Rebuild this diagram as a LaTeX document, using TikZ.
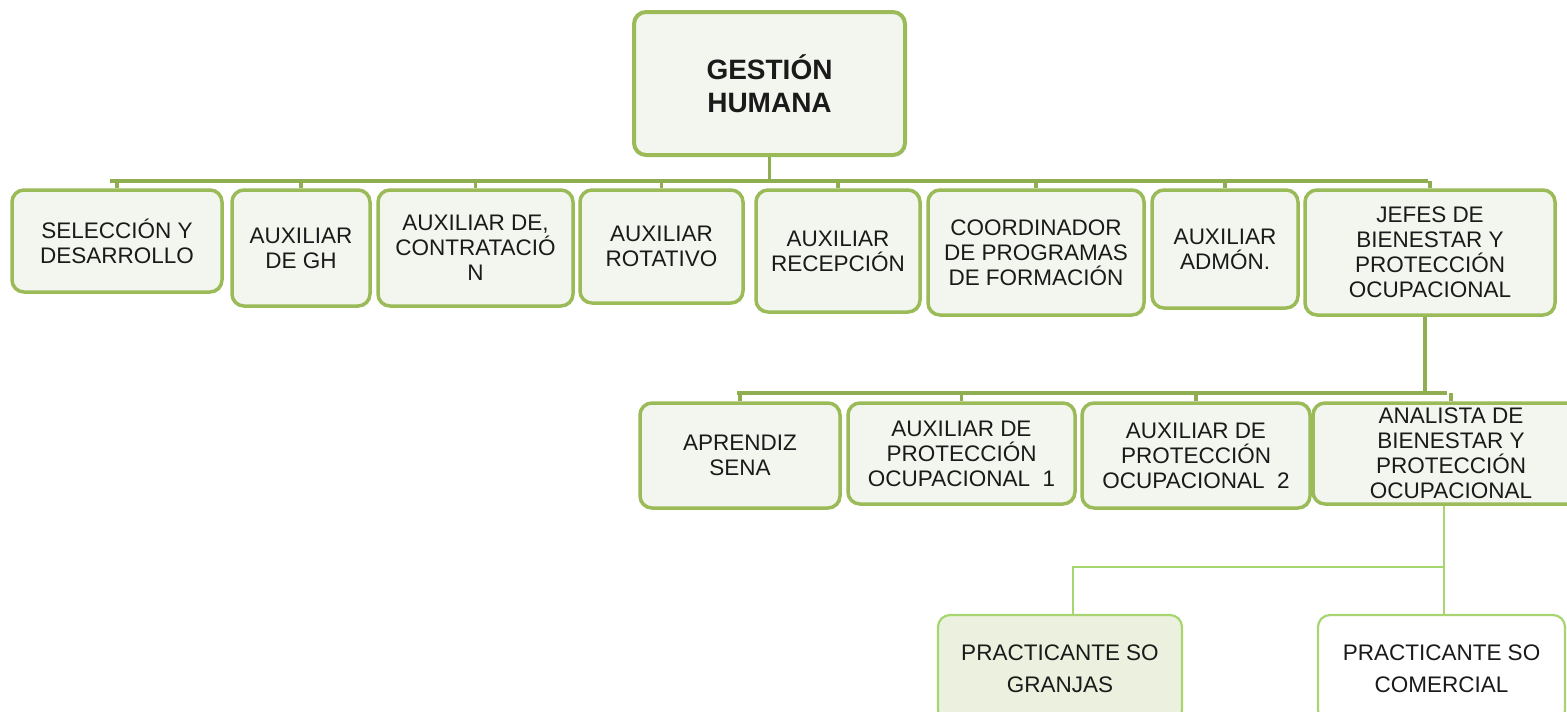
\documentclass[tikz,border=0pt]{standalone}
\usepackage{fontspec}
\setmainfont{Liberation Sans}
\definecolor{boxline}{HTML}{9BBB59}
\definecolor{conn}{HTML}{8FAE52}
\definecolor{boxfill}{HTML}{F3F6EE}
\definecolor{granfill}{HTML}{EBF1DE}
\definecolor{lightline}{HTML}{A7D670}
\definecolor{txt}{HTML}{1A1A1A}
\tikzset{
  orgbox/.style={draw=boxline, line width=3.5pt, rounded corners=12pt, fill=boxfill,
    inner sep=0pt, align=center, text=txt, font=\fontsize{22.5}{25}\selectfont},
  topbox/.style={orgbox, line width=4pt, font=\fontsize{28}{33}\selectfont\bfseries},
  lowbox/.style={orgbox, draw=lightline, line width=2.2pt, font=\fontsize{22.5}{32}\selectfont},
  mainconn/.style={draw=conn, line width=3.5pt},
  lightconn/.style={draw=lightline, line width=2pt}
}
\begin{document}
\begin{tikzpicture}[x=1pt,y=-1pt]
\useasboundingbox (0,0) rectangle (1567,712);
\clip (0,0) rectangle (1567,712);

% top
\node[topbox, minimum width=271pt, minimum height=143pt] (gh) at (769.5,83.5) {GESTIÓN\\HUMANA};

% row 1
\node[orgbox, minimum width=210pt, minimum height=102pt] (sel) at (117,241) {SELECCIÓN Y\\DESARROLLO};
\node[orgbox, minimum width=138pt, minimum height=116pt] (agh) at (301,248) {AUXILIAR\\DE GH};
\node[orgbox, minimum width=195pt, minimum height=116pt] (con) at (475.5,248) {AUXILIAR DE,\\CONTRATACIÓ\\N};
\node[orgbox, minimum width=163pt, minimum height=113pt] (rot) at (661.5,246.5) {AUXILIAR\\ROTATIVO};
\node[orgbox, minimum width=164pt, minimum height=122pt] (rec) at (838,251) {AUXILIAR\\RECEPCIÓN};
\node[orgbox, minimum width=216pt, minimum height=125pt] (coo) at (1036,252.5) {COORDINADOR\\DE PROGRAMAS\\DE FORMACIÓN};
\node[orgbox, minimum width=146pt, minimum height=118pt] (adm) at (1225,249) {AUXILIAR\\ADMÓN.};
\node[orgbox, minimum width=250pt, minimum height=125pt] (jef) at (1430,252.5) {JEFES DE\\BIENESTAR Y\\PROTECCIÓN\\OCUPACIONAL};

% row 2
\node[orgbox, minimum width=200pt, minimum height=105pt] (apr) at (740,455.5) {APRENDIZ\\SENA};
\node[orgbox, minimum width=227pt, minimum height=101pt] (ap1) at (961.5,453.5) {AUXILIAR DE\\PROTECCIÓN\\OCUPACIONAL~ 1};
\node[orgbox, minimum width=228pt, minimum height=105pt] (ap2) at (1196,455.5) {AUXILIAR DE\\PROTECCIÓN\\OCUPACIONAL~ 2};
\node[orgbox, minimum width=276pt, minimum height=101pt] (ana) at (1451,453.5) {ANALISTA DE\\BIENESTAR Y\\PROTECCIÓN\\OCUPACIONAL};

% row 3
\node[lowbox, fill=granfill, minimum width=244pt, minimum height=107pt] (gra) at (1060,668.5) {PRACTICANTE SO\\GRANJAS};
\node[lowbox, fill=white, minimum width=247pt, minimum height=107pt] (com) at (1441.5,668.5) {PRACTICANTE SO\\COMERCIAL};

% connectors level 1
\coordinate (b1L) at (110,181);
\coordinate (b1R) at (1428,181);
\draw[mainconn] (gh.south) -- (gh.south |- b1L);
\draw[mainconn] (b1L) -- (b1R);
\foreach \n in {sel,agh,con,rot,rec,coo,adm,jef}
  \draw[mainconn] (\n.north |- b1L) -- (\n.north);

% connectors level 2
\coordinate (b2L) at (737,393);
\coordinate (b2R) at (1447,393);
\draw[mainconn] ([xshift=-5pt]jef.south) -- ([xshift=-5pt]jef.south |- b2L);
\draw[mainconn] (b2L) -- (b2R);
\foreach \n in {apr,ap1,ap2,ana}
  \draw[mainconn] (\n.north |- b2L) -- (\n.north);

% connectors level 3
\coordinate (j3) at ([xshift=2.5pt]com.north |- 0,567);
\draw[lightconn] ([xshift=2.5pt]com.north) -- ([xshift=2.5pt]com.north |- ana.south);
\draw[lightconn] ([xshift=13pt]gra.north) |- (j3);
\end{tikzpicture}
\end{document}
